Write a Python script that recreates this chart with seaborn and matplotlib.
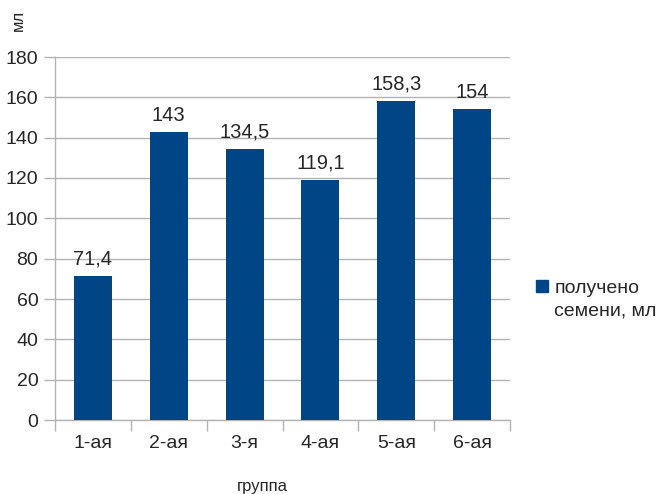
import numpy as np
import pandas as pd
import matplotlib
matplotlib.use("Agg")
import matplotlib.pyplot as plt
import seaborn as sns
from matplotlib.patches import Patch

groups = ["1-ая", "2-ая", "3-я", "4-ая", "5-ая", "6-ая"]
values = [71.4, 143, 134.5, 119.1, 158.3, 154]
value_labels = ["71,4", "143", "134,5", "119,1", "158,3", "154"]
series_name = "получено\nсемени, мл"

sns.set_style("white")
plt.rcParams["font.family"] = ["Liberation Sans", "DejaVu Sans"]

bar_color = "#004586"
grid_color = "#b3b3b3"

df = pd.DataFrame({"group": groups, "value": values})

fig = plt.figure(figsize=(6.65, 4.94), dpi=100)
ax = fig.add_axes([55 / 665, 1 - 420 / 494, 455 / 665, 363 / 494])

sns.barplot(data=df, x="group", y="value", color=bar_color, width=0.5,
            saturation=1, ax=ax, zorder=3, linewidth=0)

ax.set_xlim(-0.5, len(groups) - 0.5)
ax.set_ylim(0, 180)
ax.set_yticks(np.arange(0, 181, 20))
ax.yaxis.grid(True, color=grid_color, linewidth=1, zorder=0)
ax.set_axisbelow(True)

for s in ["top", "right"]:
    ax.spines[s].set_visible(False)
for s in ["left", "bottom"]:
    ax.spines[s].set_color(grid_color)
    ax.spines[s].set_linewidth(1)

ax.tick_params(axis="y", length=8, width=1, color=grid_color, labelsize=14,
               pad=4, left=True)
ax.tick_params(axis="x", which="major", length=0, labelsize=14, pad=11)
ax.set_xticks(np.arange(-0.5, len(groups), 1), minor=True)
ax.tick_params(axis="x", which="minor", length=8, width=1, color=grid_color,
               bottom=True)

for i, (v, lab) in enumerate(zip(values, value_labels)):
    ax.text(i, v + 3.5, lab, ha="center", va="bottom", fontsize=14.5)

ax.set_xlabel("")
ax.set_ylabel("")
fig.text(262 / 665, 1 - 486 / 494, "группа", ha="center", va="center",
         fontsize=12)
fig.text(18 / 665, 1 - 20 / 494, "мл", rotation=90, ha="center", va="center",
         fontsize=12)

handle = Patch(facecolor=bar_color, edgecolor=bar_color)
leg = fig.legend([handle], [series_name], loc="center left",
                 bbox_to_anchor=(536 / 665, 1 - 300 / 494), frameon=False,
                 fontsize=14, handlelength=0.6, handleheight=0.6,
                 handletextpad=0.35, borderaxespad=0, labelspacing=0,
                 borderpad=0)
for t in leg.get_texts():
    t.set_linespacing(1.45)
# square next to the first line, as in the original
for col in leg._legend_handle_box.get_children():
    for row in col.get_children():
        row.align = "top"

fig.savefig("out.png", dpi=100)
